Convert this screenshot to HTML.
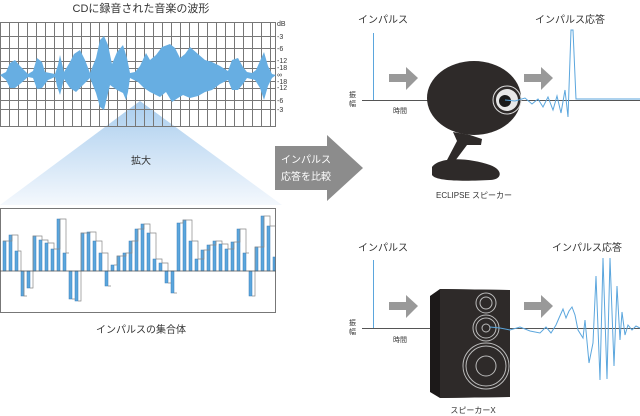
<!DOCTYPE html>
<html><head><meta charset="utf-8"><style>
html,body{margin:0;padding:0;background:#fff;}
svg{display:block;font-family:"Liberation Sans","Noto Sans CJK JP",sans-serif;}
</style></head><body>
<svg width="640" height="416" viewBox="0 0 640 416" xmlns="http://www.w3.org/2000/svg">
<defs>
<linearGradient id="tri" x1="0" y1="0" x2="0" y2="1">
<stop offset="0" stop-color="#a9cdee"/><stop offset="1" stop-color="#f4f8fd"/>
</linearGradient>
<pattern id="grid" x="0" y="0" width="9" height="200" patternUnits="userSpaceOnUse">
<line x1="0.5" y1="0" x2="0.5" y2="200" stroke="#777" stroke-width="1"/>
</pattern>
</defs>
<text x="141" y="12" font-size="11" text-anchor="middle" fill="#333">CDに録音された音楽の波形</text>
<polygon points="140,101 0,205 282,205" fill="url(#tri)"/>
<rect x="0" y="22" width="276" height="105" fill="url(#grid)"/>
<g stroke="#777" stroke-width="1">
<line x1="0" y1="22.5" x2="276" y2="22.5"/>
<line x1="0" y1="36.5" x2="276" y2="36.5"/>
<line x1="0" y1="48.5" x2="276" y2="48.5"/>
<line x1="0" y1="61.5" x2="276" y2="61.5"/>
<line x1="0" y1="68.5" x2="276" y2="68.5"/>
<line x1="0" y1="75.5" x2="276" y2="75.5"/>
<line x1="0" y1="81.5" x2="276" y2="81.5"/>
<line x1="0" y1="88.5" x2="276" y2="88.5"/>
<line x1="0" y1="100.5" x2="276" y2="100.5"/>
<line x1="0" y1="109.5" x2="276" y2="109.5"/>
<line x1="0" y1="126.5" x2="276" y2="126.5"/>
<line x1="275.5" y1="22" x2="275.5" y2="127"/>
</g>
<path fill="#67aee2" d="M0,75 L6,72 L10,63 L15,60 L20,66 L28,74 L33,71 L37,58 L42,62 L45,72 L55,74 L58,65 L60,55 L64,72 L70,62 L74,54 L80,50 L85,60 L90,73 L96,58 L100,40 L104,36 L108,45 L112,64 L117,52 L123,45 L127,58 L130,73 L135,72 L140,66 L146,53 L150,60 L156,55 L162,47 L170,44 L175,48 L180,58 L185,54 L190,47 L198,54 L205,60 L212,62 L220,66 L228,71 L232,60 L238,58 L243,67 L247,72 L252,73 L256,70 L264,52 L268,66 L272,74 L276,75 L272,78 L268,86 L264,100 L260,88 L255,80 L247,78 L243,84 L238,90 L232,90 L228,80 L220,84 L212,90 L205,92 L198,96 L190,98 L183,95 L178,98 L172,102 L166,92 L160,97 L150,92 L144,88 L138,82 L130,78 L128,92 L126,100 L123,93 L117,90 L110,85 L104,110 L100,107 L96,93 L90,78 L82,86 L76,92 L70,88 L64,79 L60,95 L57,86 L55,77 L48,80 L42,88 L37,89 L33,78 L28,77 L20,84 L15,88 L10,88 L6,80 Z"/>
<g font-size="7" fill="#333">
<text x="277" y="26">dB</text><text x="277" y="39">-3</text><text x="277" y="51">-6</text>
<text x="277" y="63">-12</text><text x="277" y="70">-18</text><text x="277" y="77">∞</text>
<text x="277" y="84">-18</text><text x="277" y="90">-12</text><text x="277" y="103">-6</text><text x="277" y="112">-3</text>
</g>
<text x="141" y="164" font-size="10" text-anchor="middle" fill="#333">拡大</text>
<rect x="0.5" y="208.5" width="275" height="104" fill="#fff" stroke="#777"/>
<g>
<g fill="#5ba6dd" stroke="#3a7fb8" stroke-width="0.5">
<rect x="3" y="241" width="3" height="30"/><rect x="9" y="235" width="3" height="36"/><rect x="15" y="251" width="3" height="20"/><rect x="21" y="271" width="3" height="25"/>
<rect x="27" y="271" width="3" height="17"/><rect x="33" y="236" width="3" height="35"/><rect x="39" y="240" width="3" height="31"/><rect x="45" y="243" width="3" height="28"/>
<rect x="51" y="249" width="3" height="22"/><rect x="57" y="219" width="3" height="52"/><rect x="63" y="253" width="3" height="18"/><rect x="69" y="271" width="3" height="28"/>
<rect x="75" y="271" width="3" height="30"/><rect x="81" y="233" width="3" height="38"/><rect x="87" y="232" width="3" height="39"/><rect x="93" y="241" width="3" height="30"/>
<rect x="99" y="253" width="3" height="18"/><rect x="105" y="271" width="3" height="15"/><rect x="111" y="265" width="3" height="6"/><rect x="117" y="256" width="3" height="15"/>
<rect x="123" y="253" width="3" height="18"/><rect x="129" y="241" width="3" height="30"/><rect x="135" y="229" width="3" height="42"/><rect x="141" y="224" width="3" height="47"/>
<rect x="147" y="233" width="3" height="38"/><rect x="153" y="259" width="3" height="12"/><rect x="159" y="263" width="3" height="8"/><rect x="165" y="271" width="3" height="12"/>
<rect x="171" y="271" width="3" height="22"/><rect x="177" y="223" width="3" height="48"/><rect x="183" y="220" width="3" height="51"/><rect x="189" y="241" width="3" height="30"/>
<rect x="195" y="259" width="3" height="12"/><rect x="201" y="250" width="3" height="21"/><rect x="207" y="245" width="3" height="26"/><rect x="213" y="241" width="3" height="30"/>
<rect x="219" y="244" width="3" height="27"/><rect x="225" y="249" width="3" height="22"/><rect x="231" y="242" width="3" height="29"/><rect x="237" y="229" width="3" height="42"/>
<rect x="243" y="253" width="3" height="18"/><rect x="249" y="271" width="3" height="25"/><rect x="255" y="247" width="3" height="24"/><rect x="261" y="216" width="3" height="55"/>
<rect x="267" y="226" width="3" height="45"/><rect x="273" y="257" width="2" height="14"/>
</g>
<path fill="none" stroke="#888" stroke-width="0.7" d="M3,241 H12 V235 H18 V251 H21 V271 M24,271 V296 H27 M30,288 H33 V236 H42 V240 H48 V243 H54 V249 H60 V219 H66 V253 H69 M72,299 H75 M78,301 H81 V233 H90 V232 H96 V241 H102 V253 H108 V271 M108,286 H111 M114,265 H117 V256 H126 V253 H132 V241 H138 V229 H144 V224 H150 V233 H156 V259 H162 V263 H168 V271 M168,283 H171 M174,293 H177 M180,223 H183 V220 H192 V241 H198 V259 H204 V250 H210 V245 H216 V241 H222 V244 H228 V249 H234 V242 H240 V229 H246 V253 H249 M252,296 H255 V247 H264 V216 H270 V226 H275"/>
<line x1="0" y1="271" x2="276" y2="271" stroke="#555" stroke-width="0.8"/>
</g>
<text x="141" y="333" font-size="10" text-anchor="middle" fill="#333">インパルスの集合体</text>
<polygon points="275,146 327,146 327,135 363,168 327,201 327,190 275,190" fill="#8c8c8c"/>
<text x="281" y="163" font-size="10" fill="#fff">インパルス</text>
<text x="281" y="180" font-size="10" fill="#fff">応答を比較</text>

<text x="358" y="23" font-size="10" fill="#333">インパルス</text>
<text x="535" y="23" font-size="10" fill="#333">インパルス応答</text>
<line x1="373.5" y1="33" x2="373.5" y2="100" stroke="#5ba6dd" stroke-width="1"/>
<line x1="362" y1="100.5" x2="640" y2="100.5" stroke="#555" stroke-width="1"/>
<text x="349" y="97" font-size="7" fill="#333">振</text><text x="349" y="106" font-size="7" fill="#333">幅</text>
<text x="393" y="113" font-size="7" fill="#333">時間</text>
<polygon points="389,74 406,74 406,67 418,78 406,90 406,82 389,82" fill="#999"/>
<polygon points="524,74 541,74 541,67 553,78 541,90 541,82 524,82" fill="#999"/>
<path d="M453,132 L457,141 L447,160 L455,161 L467,145 L481,145 L482,139 L470,135 Z" fill="#2e2a29"/>
<path d="M432,167 C440,156 470,158 490,165 C504,170 502,180 490,180 C470,181 436,182 432,175 Z" fill="#2e2a29"/>
<ellipse cx="474" cy="98" rx="47" ry="37" fill="#2e2a29"/>
<circle cx="507" cy="100" r="14" fill="#2e2a29" stroke="#ddd" stroke-width="1"/>
<circle cx="507" cy="100" r="11" fill="#e8e8e8"/>
<circle cx="505" cy="101" r="6" fill="#1a1a1a"/>
<path d="M505,100 L515,101 L525,98 L532,104 L538,99 L543,107 L548,97 L553,110 L557,96 L561,113 L565,90 L568,117 L571,30 L573,30 L576,99 L640,99" fill="none" stroke="#5ba6dd" stroke-width="1"/>
<text x="474" y="198" font-size="8" text-anchor="middle" fill="#333">ECLIPSE スピーカー</text>

<text x="358" y="251" font-size="10" fill="#333">インパルス</text>
<text x="552" y="251" font-size="10" fill="#333">インパルス応答</text>
<line x1="373.5" y1="260" x2="373.5" y2="328" stroke="#5ba6dd" stroke-width="1"/>
<line x1="362" y1="328.5" x2="640" y2="328.5" stroke="#555" stroke-width="1"/>
<text x="349" y="325" font-size="7" fill="#333">振</text><text x="349" y="334" font-size="7" fill="#333">幅</text>
<text x="393" y="342" font-size="7" fill="#333">時間</text>
<polygon points="389,302 406,302 406,295 418,306 406,318 406,310 389,310" fill="#999"/>
<polygon points="524,302 541,302 541,295 553,306 541,318 541,310 524,310" fill="#999"/>
<polygon points="430,296 440,289 510,290 510,397 440,398 430,392" fill="#1c1919"/>
<polygon points="440,289 510,290 510,397 440,398" fill="#2e2a29"/>
<g fill="none" stroke="#bbb" stroke-width="1">
<circle cx="486" cy="303" r="10"/><circle cx="486" cy="303" r="6"/>
<circle cx="486" cy="328" r="13"/><circle cx="486" cy="328" r="10"/><circle cx="486" cy="328" r="4"/>
<circle cx="486" cy="366" r="23"/><circle cx="486" cy="366" r="20"/><circle cx="486" cy="366" r="10"/>
</g>
<path d="M490,327 L500,328 L510,330 L520,327 L530,331 L540,333 L546,327 L551,333 L556,325 L559,318 L563,309 L566,318 L569,311 L572,307 L575,315 L578,330 L583,338 L585,320 L589,363 L593,343 L596,276 L600,380 L603,258 L607,379 L610,258 L614,366 L617,286 L620,340 L622,312 L625,335 L628,325 L632,330 L636,326 L640,328" fill="none" stroke="#5ba6dd" stroke-width="1"/>
<text x="473" y="413" font-size="8" text-anchor="middle" fill="#333">スピーカーX</text>
</svg>
</body></html>
